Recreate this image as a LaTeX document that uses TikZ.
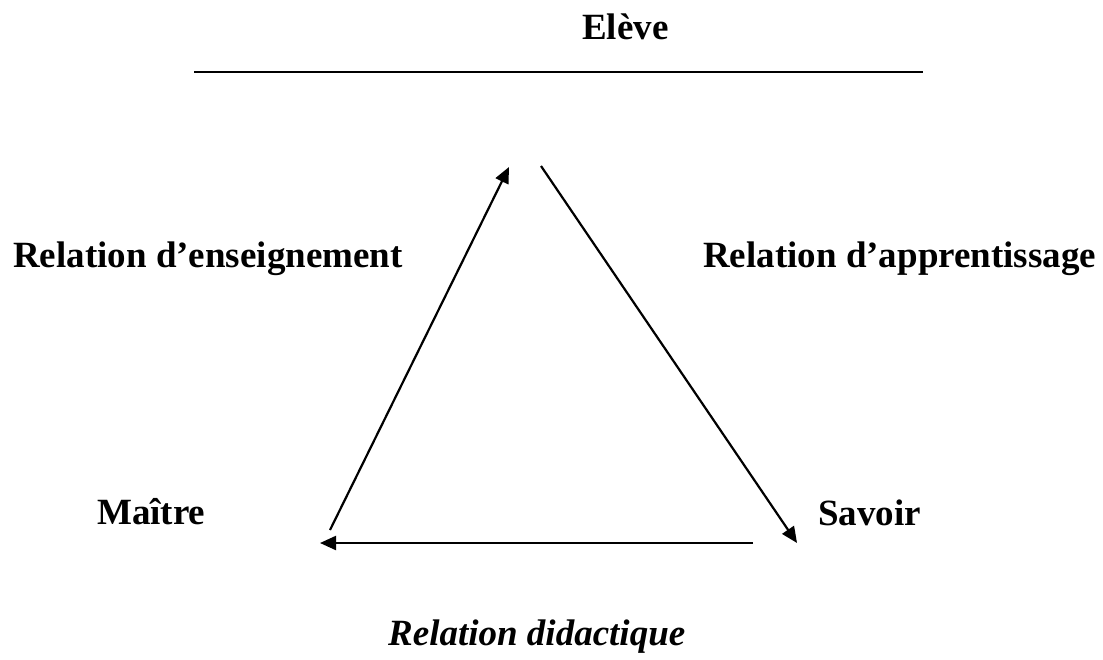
\documentclass[tikz,border=0pt]{standalone}
\usepackage{fontspec}
\setmainfont{Liberation Serif}
\usetikzlibrary{arrows.meta}

\tikzset{
  label/.style={font=\fontsize{37}{44}\selectfont\bfseries, inner sep=0pt, anchor=base west},
  fleche/.style={line width=2.2pt, -{Triangle[length=16pt,width=14pt]}}
}

\begin{document}
\begin{tikzpicture}[x=1pt, y=-1pt]
						\useasboundingbox (0, 0) rectangle (1103, 659);
						\coordinate (Haut1) at (509, 167);
						\coordinate (Haut2) at (541, 166);
						\coordinate (BasG) at (330, 530);
						\coordinate (BasD) at (797, 543);
						\coordinate (LigneD) at (753, 543);
						\coordinate (LigneG) at (320, 543);
						\coordinate (RegleG) at (194, 72);
						\coordinate (RegleD) at (923, 72);
						
						\node[label] (eleve) at (582, 39) {Elève};
						\draw[line width=2.4pt] (RegleG) -- (RegleD);
						
						\node[label] (enseign) at (13, 267) {Relation d’enseignement};
						\node[label] (apprent) at (703, 267) {Relation d’apprentissage};
						\node[label] (maitre) at (97, 524) {Maître};
						\node[label] (savoir) at (818, 525) {Savoir};
						\node[label, font=\fontsize{37}{44}\selectfont\bfseries\itshape] (didact) at (388, 645) {Relation didactique};
						
						\draw[fleche] (BasG) -- (Haut1);
						\draw[fleche] (Haut2) -- (BasD);
						\draw[fleche] (LigneD) -- (LigneG);
						\end{tikzpicture}
\end{document}
